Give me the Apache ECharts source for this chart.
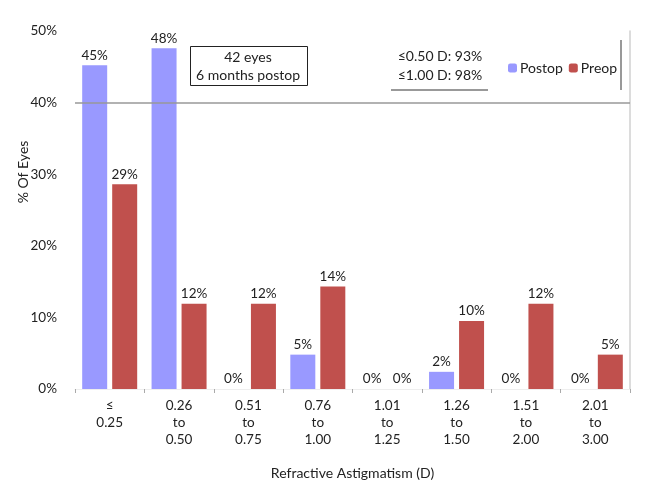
<!DOCTYPE html>
<html><head><meta charset="utf-8">
<script src="https://cdn.jsdelivr.net/npm/echarts@6/dist/echarts.min.js"></script>
<style>html,body{margin:0;padding:0;background:#fff}#c{width:657px;height:500px}</style>
</head><body><div id="c"></div>
<script>
var categories = ['≤\n0.25','0.26\nto\n0.50','0.51\nto\n0.75','0.76\nto\n1.00','1.01\nto\n1.25','1.26\nto\n1.50','1.51\nto\n2.00','2.01\nto\n3.00'];
var postop = [45.2, 47.6, 0, 4.8, 0, 2.4, 0, 0];
var preop = [28.6, 11.9, 11.9, 14.3, 0, 9.5, 11.9, 4.8];
var yTicks = [0, 10, 20, 30, 40, 50];
var refLine = 40;

var FONT = 'Lato';
var chart = echarts.init(document.getElementById('c'), null, {renderer:'canvas'});
var lbl = {show:true, position:'top', distance:3, color:'#222', fontFamily:FONT, fontSize:13.5,
  formatter:function(p){return Math.round(p.value)+'%';}};
chart.setOption({
  animation:false,
  textStyle:{fontFamily:FONT},
  grid:{left:75, right:27, top:31, bottom:111},
  legend:{data:['Postop','Preop'], left:503, top:56, itemWidth:9, itemHeight:9, itemGap:6,
    textStyle:{fontFamily:FONT, fontSize:14, color:'#222', padding:[0,0,0,-2]}},
  xAxis:{type:'category', data:categories,
    axisLine:{show:true, lineStyle:{color:'#eeeeee'}},
    axisTick:{show:true, length:4, lineStyle:{color:'#aaa'}},
    axisLabel:{color:'#222', fontFamily:FONT, fontSize:13.5, lineHeight:17, margin:8, interval:0},
    name:'Refractive Astigmatism (D)', nameLocation:'middle', nameGap:77,
    nameTextStyle:{color:'#222', fontFamily:FONT, fontSize:14}},
  yAxis:[{type:'value', min:yTicks[0], max:yTicks[yTicks.length-1], interval:10,
    axisLine:{show:false}, axisTick:{show:false}, splitLine:{show:false},
    axisLabel:{formatter:'{value}%', color:'#222', fontFamily:FONT, fontSize:13.5, margin:18}},
   {type:'value', position:'right', min:0, max:50, interval:10,
    axisLine:{show:true, lineStyle:{color:'#d0d0d0', width:1.5}}, axisTick:{show:false},
    axisLabel:{show:false}, splitLine:{show:false}}],
  series:[
    {name:'Postop', type:'bar', data:postop, barWidth:25, barGap:'20%',
     itemStyle:{color:'#9999FF'}, label:lbl,
     markLine:{silent:true, symbol:'none', label:{show:false},
       lineStyle:{color:'#999', width:1.5, type:'solid'}, data:[{yAxis:refLine}]}},
    {name:'Preop', type:'bar', data:preop, barWidth:25,
     itemStyle:{color:'#C0504D'}, label:lbl}
  ],
  graphic:[
    {type:'text', x:23, y:172, rotation:Math.PI/2, style:{x:0, y:0, text:'% Of Eyes', fill:'#222', font:'14px '+FONT, textAlign:'center', textVerticalAlign:'middle'}},
    {type:'rect', shape:{x:190.5, y:46.5, width:117, height:39}, style:{fill:'#fff', stroke:'#222', lineWidth:1}},
    {type:'text', style:{x:248, y:57, text:'42 eyes', fill:'#222', font:'14px '+FONT, textAlign:'center', textVerticalAlign:'middle'}},
    {type:'text', style:{x:248, y:75, text:'6 months postop', fill:'#222', font:'14px '+FONT, textAlign:'center', textVerticalAlign:'middle'}},
    {type:'text', style:{x:440, y:56, text:'≤0.50 D: 93%', fill:'#222', font:'14px '+FONT, textAlign:'center', textVerticalAlign:'middle'}},
    {type:'text', style:{x:440, y:75, text:'≤1.00 D: 98%', fill:'#222', font:'14px '+FONT, textAlign:'center', textVerticalAlign:'middle'}},
    {type:'line', shape:{x1:391, y1:90, x2:488, y2:90}, style:{stroke:'#999', lineWidth:2}},
    {type:'line', shape:{x1:621, y1:40, x2:621, y2:90}, style:{stroke:'#999', lineWidth:2}}
  ]
});
</script></body></html>
